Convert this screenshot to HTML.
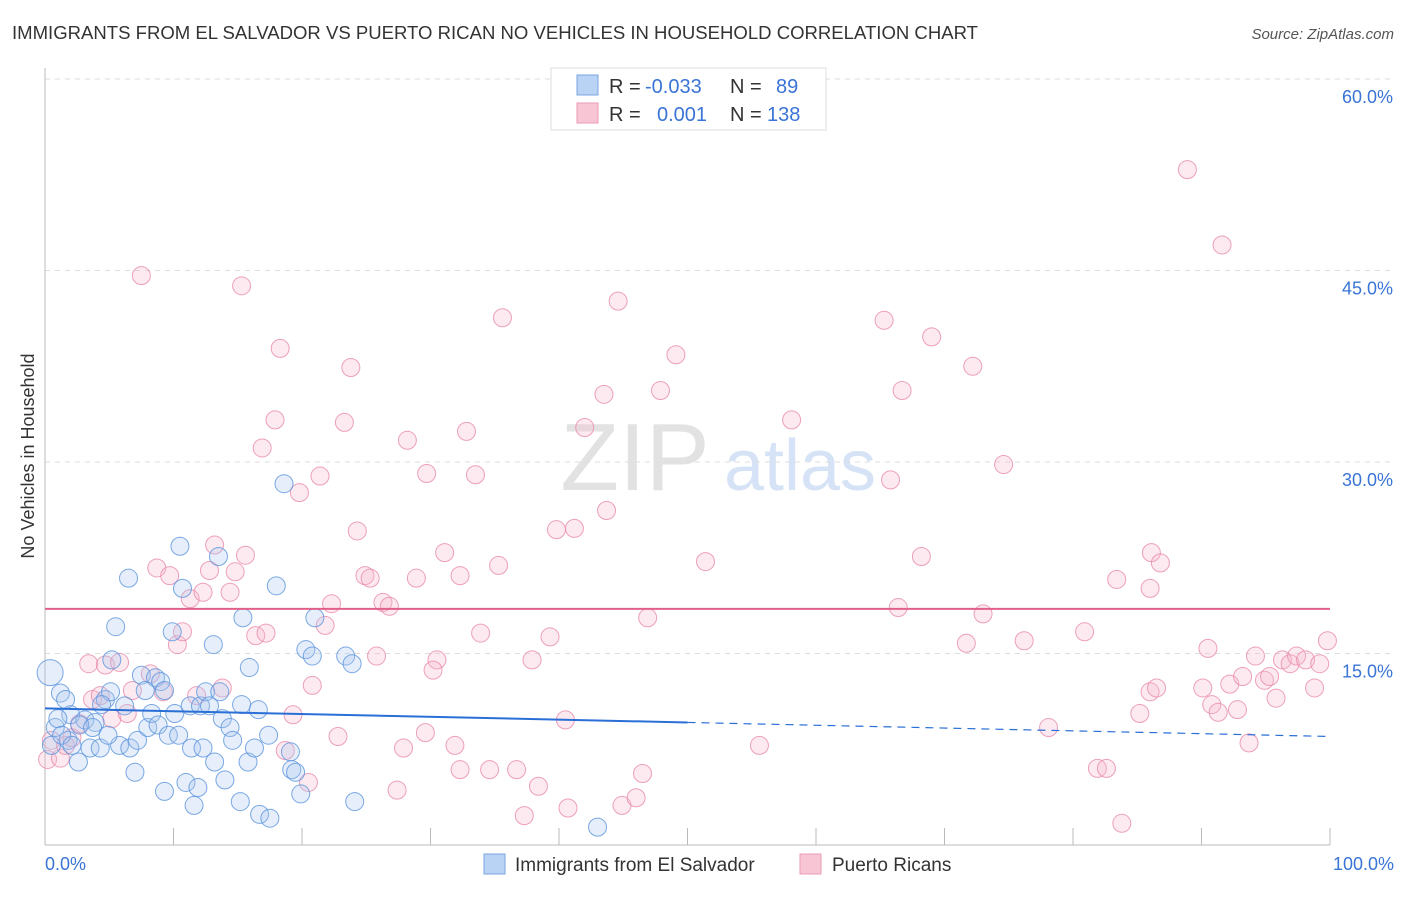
<!DOCTYPE html>
<html><head><meta charset="utf-8">
<style>
body{margin:0;background:#fff;font-family:"Liberation Sans",sans-serif;}
svg text{font-family:"Liberation Sans",sans-serif;}
</style></head>
<body>
<svg id="chart" width="1406" height="892" xmlns="http://www.w3.org/2000/svg">
<text x="12" y="39" font-size="18" fill="#333" textLength="966" lengthAdjust="spacingAndGlyphs">IMMIGRANTS FROM EL SALVADOR VS PUERTO RICAN NO VEHICLES IN HOUSEHOLD CORRELATION CHART</text>
<text x="1394" y="39" font-size="15" fill="#555" text-anchor="end" font-style="italic">Source: ZipAtlas.com</text>
<text transform="translate(34,456) rotate(-90)" font-size="18" fill="#333" text-anchor="middle">No Vehicles in Household</text>
<g>
<text x="635" y="490" font-size="96" fill="#e2e2e2" text-anchor="middle" font-family="Liberation Serif">ZIP</text>
<text x="800" y="490" font-size="72" fill="#d6e3f6" text-anchor="middle">atlas</text>
</g>
<g id="grid"></g>
<g id="axes"></g>
<g id="points"></g>
<g id="trends"></g>
<g>
<rect x="551" y="68" width="275" height="62" fill="#fff" stroke="#ddd"/>
<rect x="577" y="75" width="21" height="20" fill="#b9d3f5" stroke="#7aa6e0"/>
<rect x="577" y="103" width="21" height="20" fill="#f8c5d5" stroke="#eb9ab4"/>
<text x="609" y="93" font-size="20" fill="#333">R =</text>
<text x="645" y="93" font-size="20" fill="#3a74d6">-0.033</text>
<text x="730" y="93" font-size="20" fill="#333">N =</text>
<text x="776" y="93" font-size="20" fill="#3a74d6">89</text>
<text x="609" y="121" font-size="20" fill="#333">R =</text>
<text x="657" y="121" font-size="20" fill="#3a74d6">0.001</text>
<text x="730" y="121" font-size="20" fill="#333">N =</text>
<text x="767" y="121" font-size="20" fill="#3a74d6">138</text>
</g>
<g>
<rect x="484" y="854" width="21" height="20" fill="#b9d3f5" stroke="#7aa6e0"/>
<text x="515" y="871" font-size="19" fill="#333">Immigrants from El Salvador</text>
<rect x="800" y="854" width="21" height="20" fill="#f8c5d5" stroke="#eb9ab4"/>
<text x="832" y="871" font-size="19" fill="#333">Puerto Ricans</text>
</g>
</svg>
<script>
const yTicks=[15,30,45,60];
const yTickLabels=["15.0%","30.0%","45.0%","60.0%"];
const xTickLabels=["0.0%","100.0%"];
const blueX=[0.4,1.2,0.8,0.5,1.6,2.0,1.8,2.6,3.1,3.5,3.9,4.3,4.7,5.1,5.2,5.5,5.8,6.2,6.5,6.6,7.0,7.2,7.5,8.0,8.3,8.6,8.8,9.0,9.3,9.6,9.9,10.1,10.4,10.5,10.7,10.97,11.3,11.4,11.6,11.9,12.1,12.3,12.5,12.8,13.1,13.2,13.5,13.8,14.0,14.4,14.6,15.2,15.3,15.4,15.8,15.9,16.3,16.6,16.7,17.4,17.5,18.0,18.6,19.1,19.2,19.5,19.9,20.3,20.8,21.0,23.4,23.9,24.1,43.0,1.0,1.3,2.1,2.7,3.7,4.4,4.9,7.8,9.3,13.6];
const blueY=[13.5,11.9,9.2,7.8,11.4,10.2,8.2,6.5,9.8,7.6,9.6,7.6,11.4,12.0,14.5,17.1,7.8,10.9,20.9,7.6,5.7,8.2,13.3,9.2,10.3,13.1,9.4,12.8,4.2,8.6,16.7,10.3,8.6,23.4,20.1,4.9,10.9,7.6,3.1,4.5,10.9,7.6,12.0,10.9,15.7,6.5,22.6,9.9,5.1,9.2,8.2,3.4,11.0,17.8,6.5,13.9,7.6,10.6,2.4,8.6,2.1,20.3,28.3,7.3,5.9,5.7,4.0,15.3,14.8,17.8,14.8,14.2,3.4,1.4,9.9,8.6,7.8,9.4,9.2,11.0,8.6,12.1,12.1,12.0];
const pinkX=[7.5,15.3,18.3,16.9,17.9,19.8,21.4,23.3,23.8,24.3,24.9,25.3,26.3,26.8,28.2,28.9,29.7,30.5,30.2,31.1,32.8,32.3,33.5,33.9,35.3,35.6,34.6,36.7,37.3,37.9,38.4,39.3,39.8,40.5,40.7,41.2,42.0,43.5,43.7,44.6,44.9,46.0,46.5,46.9,47.9,49.1,51.4,55.6,58.1,65.3,65.8,66.4,66.7,68.2,69.0,71.7,72.2,73.0,74.6,76.2,78.1,80.9,81.9,82.6,83.4,83.8,85.2,86.0,86.1,86.8,86.0,86.5,88.9,90.1,90.5,90.8,91.3,91.6,92.2,92.8,93.2,93.7,94.2,94.9,95.3,95.8,96.3,96.9,97.4,98.1,98.8,99.2,99.8,0.2,0.5,1.2,1.6,2.1,2.7,3.4,3.7,4.3,4.7,5.2,5.8,6.4,6.8,8.2,8.7,9.2,9.7,10.3,10.7,11.3,11.8,12.3,12.8,13.2,13.8,14.4,14.8,15.6,16.4,17.2,18.7,19.3,20.5,20.8,21.8,22.3,22.8,25.8,27.4,27.9,29.6,31.9,32.3];
const pinkY=[44.6,43.8,38.9,31.1,33.3,27.6,28.9,33.1,37.4,24.6,21.1,20.9,19.0,18.7,31.7,20.9,29.1,14.5,13.7,22.9,32.4,21.1,29.0,16.6,21.9,41.3,5.9,5.9,2.3,14.5,4.6,16.3,24.7,9.8,2.9,24.8,32.7,35.3,26.2,42.6,3.1,3.7,5.6,17.8,35.6,38.4,22.2,7.8,33.3,41.1,28.6,18.6,35.6,22.6,39.8,15.8,37.5,18.1,29.8,16.0,9.2,16.7,6.0,6.0,20.8,1.7,10.3,20.1,22.9,22.1,12.0,12.3,52.9,12.3,15.4,11.0,10.4,47.0,12.6,10.6,13.2,8.0,14.8,12.9,13.2,11.5,14.5,14.2,14.8,14.5,12.3,14.2,16.0,6.7,8.2,6.8,7.8,8.4,9.5,14.2,11.4,11.7,14.1,9.9,14.3,10.3,12.1,13.4,21.7,12.0,21.1,15.7,16.7,19.3,11.7,19.8,21.5,23.5,12.3,19.8,21.4,22.7,16.4,16.6,7.4,10.2,4.9,12.5,17.2,18.9,8.5,14.8,4.3,7.6,8.8,7.8,5.9];
const blueTrend=[10.7,8.5];
const pinkTrend=[18.5,18.5];
const NS="http://www.w3.org/2000/svg";
const X0=45,X1=1330,Y0=845,YTOP=79;
const sx=v=>X0+(X1-X0)*v/100;
const sy=v=>Y0-(Y0-YTOP)*v/60;
function mk(tag,attrs,parent){const e=document.createElementNS(NS,tag);for(const k in attrs)e.setAttribute(k,attrs[k]);parent.appendChild(e);return e;}
const grid=document.getElementById('grid'),axes=document.getElementById('axes');
yTicks.forEach((t,i)=>{
  const l=mk('line',{x1:X0,x2:1394,y1:sy(t),y2:sy(t),stroke:'#ddd','stroke-dasharray':'5,5'},grid);
  
  
  const tx=mk('text',{x:1393,y:sy(t)+24,'font-size':18,fill:'#3a74d6','text-anchor':'end'},axes);
  tx.textContent=yTickLabels[i];
  
  
});
const ax=mk('line',{x1:X0,x2:X0,y1:68,y2:Y0,stroke:'#bbb'},axes);


const bx=mk('line',{x1:X0,x2:X1,y1:Y0,y2:Y0,stroke:'#bbb'},axes);


for(let i=0;i<=10;i++){
  const t=mk('line',{x1:sx(i*10),x2:sx(i*10),y1:828,y2:Y0,stroke:'#bbb'},axes);
  
  
}
[[0,'start',45],[100,'end',1394]].forEach((d,i)=>{
  const tx=mk('text',{x:d[2],y:870,'font-size':18,fill:'#3a74d6','text-anchor':d[1]},axes);
  tx.textContent=xTickLabels[i];
  
  
});
const pg=document.getElementById('points');
function draw(xs,ys,fill,stroke,name){
  xs.forEach((x,i)=>{
    const r=(i===0&&x<1)?13:9;
    const c=mk('circle',{cx:sx(x),cy:sy(ys[i]),r:r,fill:fill,'fill-opacity':0.3,stroke:stroke,'stroke-width':1,'stroke-opacity':0.8},pg);
    
    
  });
}
draw(pinkX,pinkY,'#f5b8cc','#e88aab','point-puerto-rican');
draw(blueX,blueY,'#a8c8f0','#5b93dd','point-el-salvador');
const tg=document.getElementById('trends');
const bm=blueTrend[0]+(blueTrend[1]-blueTrend[0])*0.5;
const b1=mk('line',{x1:sx(0),y1:sy(blueTrend[0]),x2:sx(50),y2:sy(bm),stroke:'#2a6fd6','stroke-width':2},tg);


const b2=mk('line',{x1:sx(50),y1:sy(bm),x2:sx(100),y2:sy(blueTrend[1]),stroke:'#2a6fd6','stroke-width':1.2,'stroke-dasharray':'8,6'},tg);


const p1=mk('line',{x1:sx(0),y1:sy(pinkTrend[0]),x2:sx(100),y2:sy(pinkTrend[1]),stroke:'#e0608a','stroke-width':2},tg);


</script>
</body></html>
